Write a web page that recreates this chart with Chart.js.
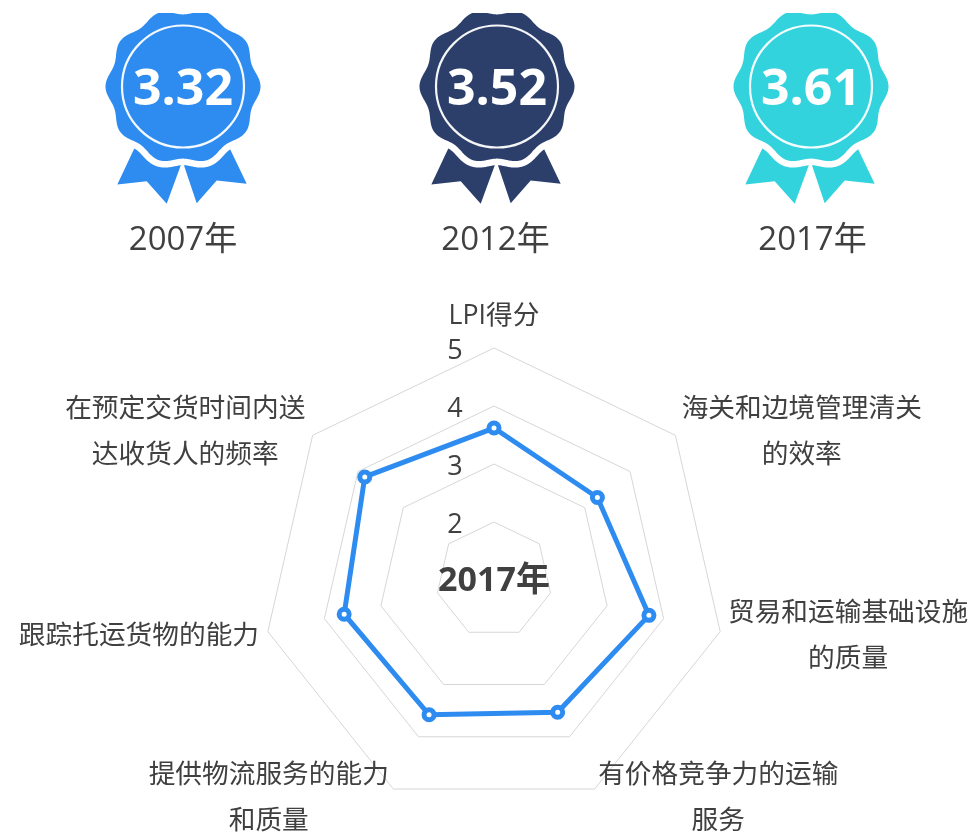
<!DOCTYPE html>
<html>
<head>
<meta charset="utf-8">
<style>
  html, body { margin: 0; padding: 0; background: #fff; }
  canvas { display: block; }
</style>
<script src="https://cdn.jsdelivr.net/npm/chart.js@4/dist/chart.umd.js"></script>
</head>
<body>
<canvas id="miGrafico" width="970" height="833"></canvas>
<script>
const categories = [
  ['LPI得分'],
  ['海关和边境管理清关', '的效率'],
  ['贸易和运输基础设施', '的质量'],
  ['有价格竞争力的运输', '服务'],
  ['提供物流服务的能力', '和质量'],
  ['跟踪托运货物的能力'],
  ['在预定交货时间内送', '达收货人的频率'],
]
const values2017 = [3.62, 3.28, 3.74, 3.53, 3.58, 3.65, 3.85]
const tickLabels = ['2', '3', '4', '5']
const centerLabel = '2017年'

const medalYears = ['2007年', '2012年', '2017年']
const medalScores = ['3.32', '3.52', '3.61']
const medalColors = ['#2e8cf0', '#2c3f6b', '#33d3de']
const medalCenters = [183, 497, 811]
const yearCenters = [183, 495.5, 812.5]

const FONT = '"Open Sans", "Noto Sans CJK SC", sans-serif'
const TEXT_COLOR = '#404040'

const medalPath = (cx, cy) => {
  const path = new Path2D()
  for (let a = 0; a <= 720; a++) {
    const t = (a / 720) * Math.PI * 2
    const r = 74.8 + 2.7 * Math.cos(10 * t)
    const x = cx + r * Math.cos(t)
    const y = cy + r * Math.sin(t)
    if (a === 0) path.moveTo(x, y)
    else path.lineTo(x, y)
  }
  path.closePath()
  return path
}

const drawMedal = (ctx, i) => {
  const cx = medalCenters[i]
  const cy = 86.5
  ctx.save()
  // recortado arriba, como en la imagen original
  ctx.beginPath()
  ctx.rect(cx - 100, 13, 200, 200)
  ctx.clip()
  ctx.fillStyle = medalColors[i]
  // cintas
  const ribbons = [
    [[-44, 52], [1, 70], [-16.3, 117.3], [-36.3, 94.7], [-65.7, 98]],
    [[42, 52], [-2, 70], [13.7, 116.7], [33.7, 94], [63.7, 97.3]],
  ]
  ribbons.forEach((pts) => {
    ctx.beginPath()
    pts.forEach((p, k) => {
      if (k === 0) ctx.moveTo(cx + p[0], cy + p[1])
      else ctx.lineTo(cx + p[0], cy + p[1])
    })
    ctx.closePath()
    ctx.fill()
  })
  const path = medalPath(cx, cy)
  ctx.strokeStyle = '#fff'
  ctx.lineWidth = 13
  ctx.lineJoin = 'round'
  ctx.stroke(path)
  ctx.fill(path)
  // aro interior
  ctx.beginPath()
  ctx.arc(cx, cy, 61, 0, Math.PI * 2)
  ctx.strokeStyle = 'rgba(255,255,255,0.95)'
  ctx.lineWidth = 2.2
  ctx.stroke()
  ctx.restore()

  ctx.textAlign = 'center'
  ctx.textBaseline = 'middle'
  ctx.fillStyle = '#fff'
  ctx.font = 'bold 50px ' + FONT
  ctx.fillText(medalScores[i], cx, cy + 4)
  ctx.fillStyle = TEXT_COLOR
  ctx.font = '33px ' + FONT
  ctx.fillText(medalYears[i], yearCenters[i], 241)
}

const extrasPlugin = {
  id: 'extras',
  afterDraw(chart) {
    const ctx = chart.ctx
    const scale = chart.scales.r
    ctx.save()
    medalYears.forEach((y, i) => drawMedal(ctx, i))

    // etiquetas de los ticks, a la izquierda del eje
    ctx.fillStyle = TEXT_COLOR
    ctx.font = '27px ' + FONT
    ctx.textAlign = 'center'
    ctx.textBaseline = 'middle'
    tickLabels.forEach((t) => {
      const y = scale.yCenter - scale.getDistanceFromCenterForValue(Number(t))
      ctx.fillText(t, scale.xCenter - 39, y + 3)
    })

    // etiquetas de las categorias
    ctx.font = '26.7px ' + FONT
    const lineH = 46
    categories.forEach((lines, i) => {
      const pos = scale.getPointPosition(i, scale.drawingArea + 8)
      const w = Math.max(...lines.map((l) => ctx.measureText(l).width))
      let x = pos.x
      if (pos.x > scale.xCenter + 1) x = pos.x + w / 2
      if (pos.x < scale.xCenter - 1) x = pos.x - w / 2 - 1
      let y = pos.y - ((lines.length - 1) * lineH) / 2 + 2.5
      if (i === 0) y = pos.y - 24
      lines.forEach((l, k) => ctx.fillText(l, x, y + k * lineH))
    })

    // titulo central
    ctx.font = 'bold 34px ' + FONT
    ctx.fillText(centerLabel, scale.xCenter, scale.yCenter + 1)
    ctx.restore()
  },
}

const ctx = document.getElementById('miGrafico').getContext('2d')
const myChart = new Chart(ctx, {
  type: 'radar',
  data: {
    labels: categories,
    datasets: [
      {
        label: centerLabel,
        data: values2017,
        borderColor: '#2e8cf0',
        borderWidth: 5,
        backgroundColor: 'transparent',
        fill: false,
        pointRadius: 5,
        pointBorderWidth: 5,
        pointBorderColor: '#2e8cf0',
        pointBackgroundColor: '#fff',
      },
    ],
  },
  options: {
    responsive: false,
    animation: false,
    layout: {
      padding: { left: 262, right: 244, top: 348, bottom: 21 },
    },
    plugins: {
      legend: { display: false },
      tooltip: { enabled: false },
    },
    scales: {
      r: {
        min: 1,
        max: 5,
        ticks: { stepSize: 1, display: false },
        pointLabels: { display: false },
        angleLines: { display: false },
        grid: { color: '#d6d6d6', lineWidth: 1 },
      },
    },
  },
  plugins: [extrasPlugin],
})
</script>
</body>
</html>
